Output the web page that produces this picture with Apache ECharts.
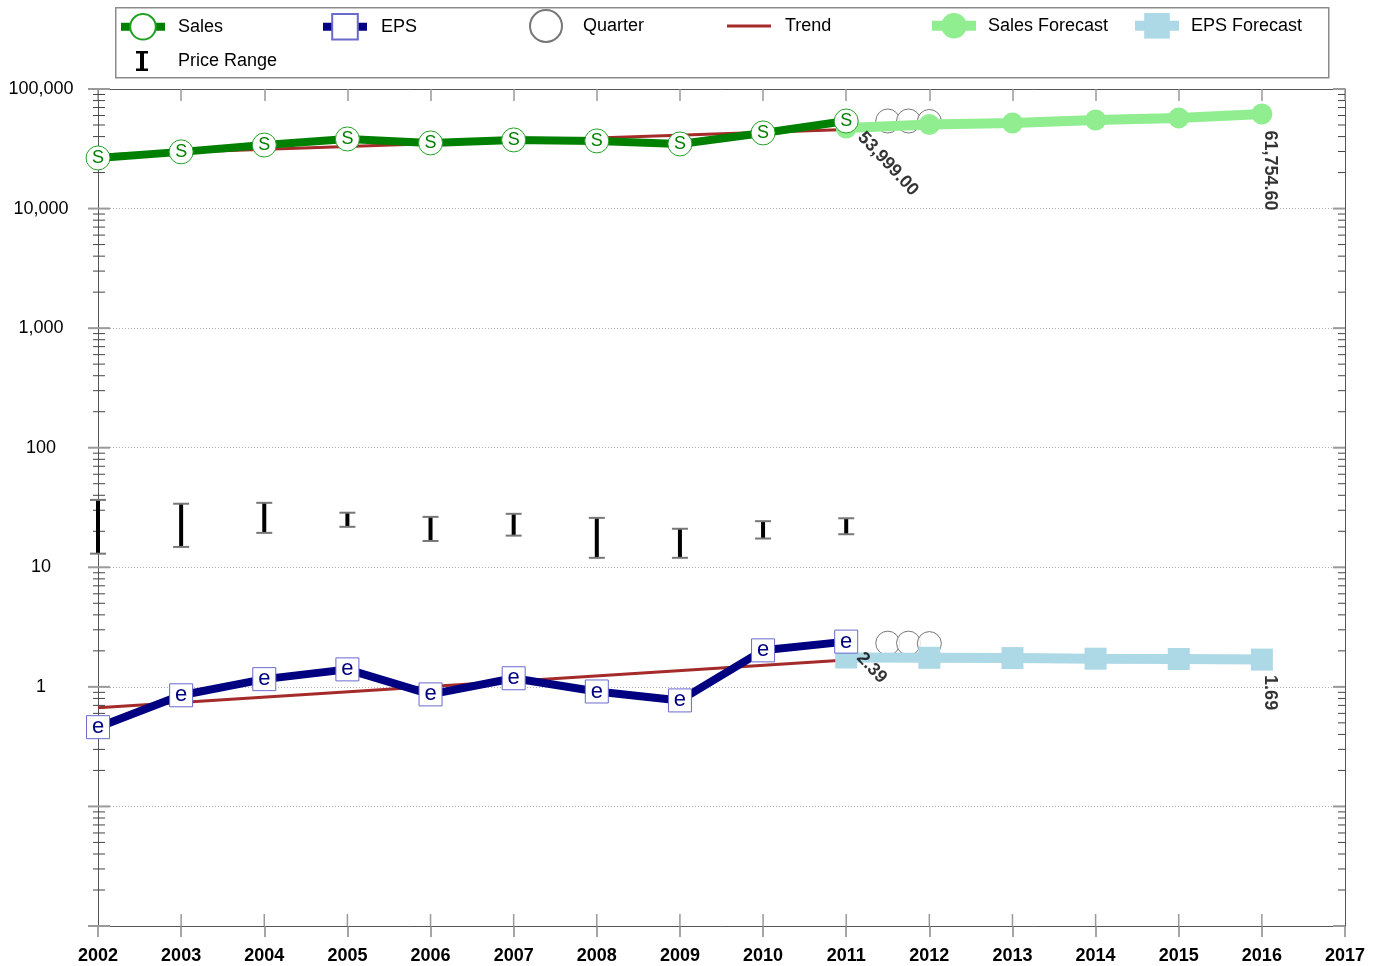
<!DOCTYPE html>
<html><head><meta charset="utf-8">
<script src="https://cdn.jsdelivr.net/npm/echarts@6/dist/echarts.min.js"></script>
<style>html,body{margin:0;padding:0;background:#fff}#c{width:1379px;height:966px}</style>
</head><body><div id="c"></div>
<script>
// ---- data ----
const years = [2002, 2003, 2004, 2005, 2006, 2007, 2008, 2009, 2010, 2011];
const sales = [26500, 29800, 34000, 38200, 35400, 37500, 36800, 34700, 42900, 53999];
const eps = [0.46, 0.85, 1.16, 1.40, 0.865, 1.18, 0.915, 0.77, 2.02, 2.39];
const forecastYears = [2011, 2012, 2013, 2014, 2015, 2016];
const salesForecast = [47200, 50500, 52000, 55100, 57300, 61754.6];
const epsForecast = [1.76, 1.75, 1.74, 1.72, 1.71, 1.69];
const quarterX = [2011.5, 2011.75, 2012];
const salesQuarters = [54000, 54000, 53500];
const epsQuarters = [2.32, 2.32, 2.30];
const trendYears = [2002, 2011];
const salesTrend = [28000, 45900];
const epsTrend = [0.67, 1.68];
const priceHigh = [36.6, 34.0, 34.6, 28.6, 26.4, 28.0, 25.9, 21.0, 24.3, 25.7];
const priceLow = [13.0, 14.8, 19.4, 21.8, 16.6, 18.4, 12.0, 12.0, 17.4, 18.9];
const yTickValues = [1, 10, 100, 1000, 10000, 100000];
const yTickLabels = ['1', '10', '100', '1,000', '10,000', '100,000'];
const xMin = 2002, xMax = 2017;

// axis decoration tick values (log minor ticks)
const logTicks = [];
for (let k = -2; k <= 4; k++) for (let m = 1; m <= 9; m++) logTicks.push([xMin, m * Math.pow(10, k), m === 1 ? 1 : 0]);
logTicks.push([xMin, 100000, 1]);
const innerXTicks = [];
for (let y = xMin + 1; y < xMax; y++) innerXTicks.push([y, 0.01]);

const pair = (xs, ys) => xs.map((x, i) => [x, ys[i]]);
const FONT = 'Liberation Sans, Arial, Helvetica, sans-serif';

function lg(name, left, top, pad, extra) {
  return {
    orient: 'horizontal', itemWidth: 44, itemHeight: 32, itemGap: 0, left: left, top: top, padding: 0,
    textStyle: { fontSize: 18, color: '#000', fontFamily: FONT, padding: [0, 0, 0, pad] },
    selectedMode: false,
    data: [Object.assign({ name: name }, extra || {})]
  };
}
const TREND_ICON = 'path://M0,14.5 L44,14.5 L44,17.5 L0,17.5 Z M0,0 L0.01,0 L0,0.01 Z M44,32 L43.99,32 L44,31.99 Z';
const PRICE_ICON = 'path://M16,6 L28,6 L28,8.5 L24,8.5 L24,23.5 L28,23.5 L28,26 L16,26 L16,23.5 L20,23.5 L20,8.5 L16,8.5 Z M0,0 L0.01,0 L0,0.01 Z M44,32 L43.99,32 L44,31.99 Z';

const chart = echarts.init(document.getElementById('c'), null, { renderer: 'canvas' });
const fmt2 = v => v.toLocaleString('en-US', { minimumFractionDigits: 2, maximumFractionDigits: 2 });
const valLabel = (ox, oy, rot, va) => ({ show: true, position: [ox, oy], rotate: rot, align: 'left', verticalAlign: va,
  fontSize: 18, fontWeight: 'bold', color: '#000', fontFamily: FONT, formatter: p => fmt2(p.value[1]) });

chart.setOption({
  animation: false,
  textStyle: { fontFamily: FONT },
  grid: { left: 98, right: 34, top: 89, bottom: 40, containLabel: false },
  graphic: [{ type: 'rect', left: 115, top: 7, shape: { width: 1213, height: 70 }, z: -1,
    style: { fill: '#fff', stroke: '#8c8c8c', lineWidth: 1.5 } }],
  legend: [
    lg('Sales', 117, 13, 8, { lineStyle: { width: 8 } }),
    lg('EPS', 319, 13, 9, { lineStyle: { width: 8 } }),
    lg('Quarter', 529, 9, 10),
    lg('Trend', 727, 10, 9, { icon: TREND_ICON, itemStyle: { color: '#A52A2A' } }),
    lg('Sales Forecast', 927, 13, 7, { lineStyle: { width: 10 } }),
    lg('EPS Forecast', 1130, 13, 7, { lineStyle: { width: 10 } }),
    lg('Price Range', 120, 45, 9, { icon: PRICE_ICON, itemStyle: { color: '#000' } })
  ],
  xAxis: [
    { type: 'value', min: xMin, max: xMax, interval: 1, position: 'bottom',
      axisLine: { show: true, lineStyle: { color: '#555', width: 1 } },
      axisTick: { show: true, length: 11, lineStyle: { color: '#888', width: 1.5 } },
      axisLabel: { fontSize: 18, fontWeight: 'bold', color: '#000', margin: 21, formatter: v => String(v) },
      splitLine: { show: false } },
    { type: 'value', min: xMin, max: xMax, interval: 1, position: 'top',
      axisLine: { show: true, lineStyle: { color: '#555', width: 1 } },
      axisTick: { show: true, inside: true, length: 12, lineStyle: { color: '#999', width: 1.5 } },
      axisLabel: { show: false }, splitLine: { show: false } }
  ],
  yAxis: [
    { type: 'log', logBase: 10, min: 0.01, max: 100000, position: 'left',
      axisLine: { show: true, lineStyle: { color: '#555', width: 1 } },
      axisTick: { show: false },
      axisLabel: { fontSize: 18, color: '#000', align: 'center', margin: 57,
        formatter: v => { const i = yTickValues.indexOf(Math.round(v)); return (v >= 1 && i >= 0) ? yTickLabels[i] : ''; } },
      splitLine: { show: true, lineStyle: { type: [1, 2], color: '#b0b0b0', width: 1 } } },
    { type: 'log', logBase: 10, min: 0.01, max: 100000, position: 'right',
      axisLine: { show: true, lineStyle: { color: '#555', width: 1 } },
      axisTick: { show: false }, axisLabel: { show: false }, splitLine: { show: false } }
  ],
  series: [
    { name: 'yticks', type: 'custom', silent: true, clip: false, data: logTicks, z: 1,
      renderItem: (params, api) => {
        const p = api.coord([xMin, api.value(1)]);
        const major = api.value(2) === 1;
        const xl = params.coordSys.x, xr = xl + params.coordSys.width;
        const st = { stroke: major ? '#9a9a9a' : '#444', lineWidth: major ? 2 : 1 };
        const a = major ? 10 : 5, b = major ? 12 : 7;
        return { type: 'group', children: [
          { type: 'line', shape: { x1: xl - a, y1: p[1], x2: xl + b, y2: p[1] }, style: st },
          { type: 'line', shape: { x1: xr - b, y1: p[1], x2: xr, y2: p[1] }, style: st }
        ] };
      } },
    { name: 'xticks', type: 'custom', silent: true, clip: false, data: innerXTicks, z: 1,
      renderItem: (params, api) => {
        const p = api.coord([api.value(0), 0.01]);
        return { type: 'line', shape: { x1: p[0], y1: p[1], x2: p[0], y2: p[1] - 12 }, style: { stroke: '#999', lineWidth: 1.5 } };
      } },
    { name: 'Price Range', type: 'custom', itemStyle: { color: '#000' },
      data: years.map((y, i) => [y, priceLow[i], priceHigh[i]]),
      encode: { x: 0, y: [1, 2] },
      renderItem: (params, api) => {
        const lo = api.coord([api.value(0), api.value(1)]);
        const hi = api.coord([api.value(0), api.value(2)]);
        const x = lo[0], w = 8;
        return { type: 'group', children: [
          { type: 'line', shape: { x1: x, y1: hi[1], x2: x, y2: lo[1] }, style: { stroke: '#000', lineWidth: 4 } },
          { type: 'line', shape: { x1: x - w, y1: hi[1], x2: x + w, y2: hi[1] }, style: { stroke: '#777', lineWidth: 2 } },
          { type: 'line', shape: { x1: x - w, y1: lo[1], x2: x + w, y2: lo[1] }, style: { stroke: '#777', lineWidth: 2 } }
        ] };
      } },
    { name: 'Sales Forecast', type: 'line', data: pair(forecastYears, salesForecast),
      symbol: 'circle', symbolSize: 21, lineStyle: { color: '#90EE90', width: 10 },
      itemStyle: { color: '#90EE90' }, emphasis: { disabled: true } },
    { name: 'EPS Forecast', type: 'line', data: pair(forecastYears, epsForecast),
      symbol: 'rect', symbolSize: 22, lineStyle: { color: '#ADD8E6', width: 10 },
      itemStyle: { color: '#ADD8E6' }, emphasis: { disabled: true } },
    { name: 'Trend', type: 'line', data: pair(trendYears, salesTrend), symbol: 'none',
      lineStyle: { color: '#A52A2A', width: 3 }, itemStyle: { color: '#A52A2A' }, emphasis: { disabled: true } },
    { name: 'Trend', type: 'line', data: pair(trendYears, epsTrend), symbol: 'none',
      lineStyle: { color: '#A52A2A', width: 3 }, itemStyle: { color: '#A52A2A' }, emphasis: { disabled: true } },
    { name: 'Sales', type: 'line', data: pair(years, sales), symbol: 'circle', symbolSize: 24,
      lineStyle: { color: '#008000', width: 8 },
      itemStyle: { color: '#fff', borderColor: '#22a022', borderWidth: 1 },
      label: { show: true, position: 'inside', formatter: 'S', color: '#008000', fontSize: 18 },
      emphasis: { disabled: true } },
    { name: 'EPS', type: 'line', data: pair(years, eps), symbol: 'rect', symbolSize: 23,
      lineStyle: { color: '#000080', width: 8 },
      itemStyle: { color: '#fff', borderColor: '#6a6acd', borderWidth: 1 },
      label: { show: true, position: 'inside', formatter: 'e', color: '#000080', fontSize: 22 },
      emphasis: { disabled: true } },
    { name: 'Quarter', type: 'scatter', symbol: 'circle', symbolSize: 24,
      data: pair(quarterX, salesQuarters).concat(pair(quarterX, epsQuarters)),
      itemStyle: { color: '#fff', borderColor: '#555', borderWidth: 1 }, emphasis: { disabled: true } },
    { name: 'values', type: 'scatter', symbolSize: 1, itemStyle: { color: 'rgba(0,0,0,0)' }, silent: true, z: 5,
      data: [
        { value: [years[9], sales[9]], label: valLabel(15, 14, -47, 'middle') },
        { value: [forecastYears[5], salesForecast[5]], label: valLabel(0, 17, -90, 'bottom') },
        { value: [years[9], eps[9]], label: valLabel(14, 14, -47, 'middle') },
        { value: [forecastYears[5], epsForecast[5]], label: valLabel(0, 16, -90, 'bottom') }
      ] }
  ]
});
</script></body></html>
